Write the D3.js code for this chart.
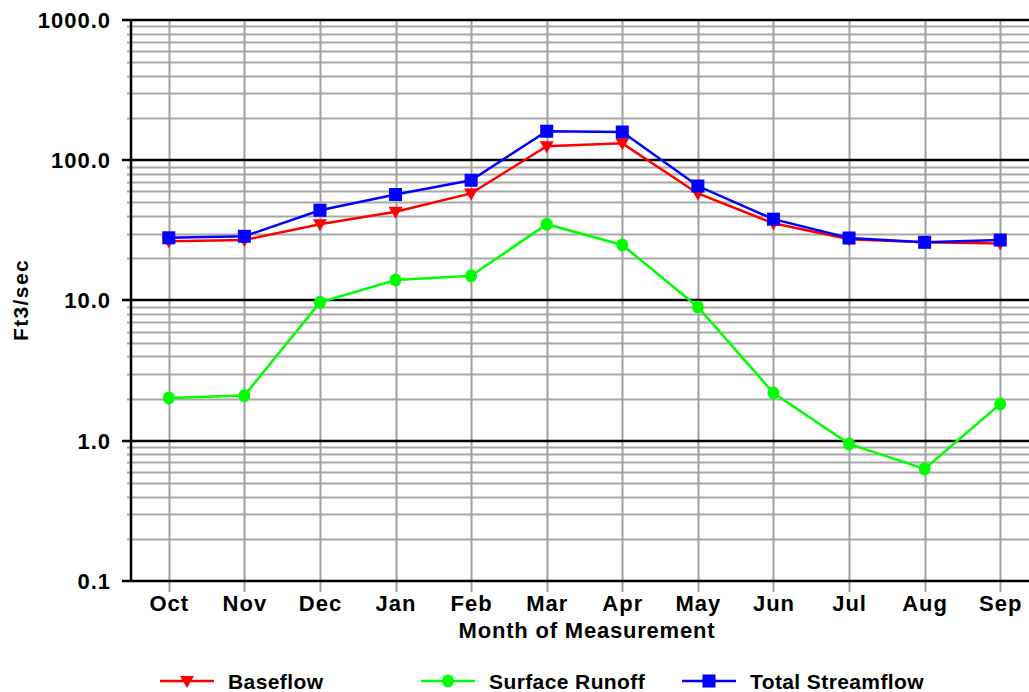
<!DOCTYPE html>
<html>
<head>
<meta charset="utf-8">
<script src="https://cdn.jsdelivr.net/npm/d3@7"></script>
<style>
  body { margin: 0; background: #fff; }
  text { font-family: "Liberation Sans", Arial, sans-serif; font-weight: bold; fill: #000; }
</style>
</head>
<body>
<div class="chart"></div>
<script>
// data
var months = ["Oct","Nov","Dec","Jan","Feb","Mar","Apr","May","Jun","Jul","Aug","Sep"];
var baseflow = [26.5, 27, 35, 43, 58, 126, 132, 58, 35.5, 27.3, 26, 25.5];
var surfaceRunoff = [2.02, 2.1, 9.7, 14, 15, 35, 24.9, 9.0, 2.19, 0.95, 0.63, 1.83];
var totalStreamflow = [28, 28.7, 44, 57, 72, 161, 159, 65.5, 38, 27.9, 26, 27];
var yTickValues = [0.1, 1, 10, 100, 1000];
var yTickLabels = ["0.1", "1.0", "10.0", "100.0", "1000.0"];

var width = 1029, height = 692;
var margin = { top: 20, left: 131, right: -9, bottom: 111 };

var svg = d3.select(".chart").append("svg")
    .attr("width", width)
    .attr("height", height);

var x = d3.scalePoint()
    .domain(months)
    .range([margin.left, width - margin.right])
    .padding(0.5);

var y = d3.scaleLog()
    .domain([0.1, 1000])
    .range([height - margin.bottom, margin.top]);

var x0 = margin.left, x1 = width - margin.right;
var y0 = height - margin.bottom, y1 = margin.top;

// minor grid (2..9 in each decade)
var minor = [];
yTickValues.slice(0, -1).forEach(function (d) {
    for (var k = 2; k < 10; k++) minor.push(d * k);
});
svg.append("g").selectAll("line")
    .data(minor)
    .enter().append("line")
    .attr("x1", x0 - 4).attr("x2", x1)
    .attr("y1", function (d) { return Math.round(y(d)) + 0.5; })
    .attr("y2", function (d) { return Math.round(y(d)) + 0.5; })
    .attr("stroke", "#a8a8a8")
    .attr("stroke-width", 2);

// vertical grid
svg.append("g").selectAll("line")
    .data(months)
    .enter().append("line")
    .attr("x1", function (d) { return Math.round(x(d)) + 0.5; })
    .attr("x2", function (d) { return Math.round(x(d)) + 0.5; })
    .attr("y1", y1).attr("y2", y0 + 11)
    .attr("stroke", "#a0a0a0")
    .attr("stroke-width", 2);

// major grid
svg.append("g").selectAll("line")
    .data(yTickValues)
    .enter().append("line")
    .attr("x1", x0 - 9).attr("x2", x1)
    .attr("y1", function (d) { return Math.round(y(d)); })
    .attr("y2", function (d) { return Math.round(y(d)); })
    .attr("stroke", "#000")
    .attr("stroke-width", 2.5);

// left axis line
svg.append("line")
    .attr("x1", x0).attr("x2", x0)
    .attr("y1", y1).attr("y2", y0)
    .attr("stroke", "#000").attr("stroke-width", 2.5);

// y tick labels
svg.append("g").selectAll("text")
    .data(yTickValues)
    .enter().append("text")
    .attr("x", x0 - 20)
    .attr("y", function (d) { return y(d); })
    .attr("dy", "0.36em")
    .attr("text-anchor", "end")
    .style("font-size", "22px")
    .style("letter-spacing", "1px")
    .text(function (d, i) { return yTickLabels[i]; });

// x tick labels
svg.append("g").selectAll("text")
    .data(months)
    .enter().append("text")
    .attr("x", function (d) { return x(d) + 0.5; })
    .attr("y", y0 + 30)
    .attr("text-anchor", "middle")
    .style("font-size", "22px")
    .style("letter-spacing", "1px")
    .text(function (d) { return d; });

svg.append("text")
    .attr("x", 587).attr("y", 638)
    .attr("text-anchor", "middle")
    .style("font-size", "22px")
    .style("letter-spacing", "0.8px")
    .text("Month of Measurement");

svg.append("text")
    .attr("transform", "translate(28,300) rotate(-90)")
    .attr("text-anchor", "middle")
    .style("font-size", "21px")
    .style("letter-spacing", "1.4px")
    .text("Ft3/sec");

var series = [
    { name: "Baseflow", values: baseflow, color: "#ff0000", marker: "tri" },
    { name: "Surface Runoff", values: surfaceRunoff, color: "#00ff00", marker: "circle" },
    { name: "Total Streamflow", values: totalStreamflow, color: "#0000ff", marker: "square" }
];

var line = d3.line()
    .x(function (d, i) { return x(months[i]); })
    .y(function (d) { return y(d); });

function drawMarker(g, type, color) {
    if (type === "square") {
        g.append("rect").attr("x", -6.5).attr("y", -6.5).attr("width", 13).attr("height", 13).attr("fill", color);
    } else if (type === "circle") {
        g.append("ellipse").attr("rx", 6).attr("ry", 6.5).attr("fill", color);
    } else {
        g.append("path").attr("d", "M-7,-5L7,-5L0,7Z").attr("fill", color);
    }
}

series.forEach(function (s) {
    svg.append("path")
        .datum(s.values)
        .attr("d", line)
        .attr("fill", "none")
        .attr("stroke", s.color)
        .attr("stroke-width", 2.5);
    s.values.forEach(function (v, i) {
        var g = svg.append("g").attr("transform", "translate(" + x(months[i]) + "," + y(v) + ")");
        drawMarker(g, s.marker, s.color);
    });
});

// legend
var legendX = [160, 421, 682];
var legend = svg.append("g").selectAll("g")
    .data(series)
    .enter().append("g")
    .attr("transform", function (d, i) { return "translate(" + legendX[i] + ",681)"; });
legend.append("line")
    .attr("x1", 0).attr("x2", 54)
    .attr("stroke", function (d) { return d.color; })
    .attr("stroke-width", 2.5);
legend.each(function (d) {
    var g = d3.select(this).append("g").attr("transform", "translate(27,0)");
    drawMarker(g, d.marker, d.color);
});
legend.append("text")
    .attr("x", 68)
    .attr("dy", "0.36em")
    .style("font-size", "21px")
    .style("letter-spacing", "0.4px")
    .text(function (d) { return d.name; });
</script>
</body>
</html>
